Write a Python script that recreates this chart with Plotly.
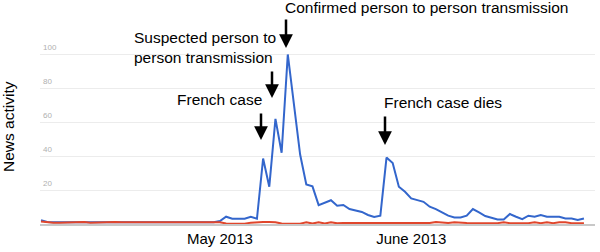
import pandas as pd
import plotly.graph_objects as go

# ---- data ----
dates = pd.date_range("2013-04-02", periods=89, freq="D")
blue = [2.2, 1.2, 1.0, 1.0, 1.0, 1.0, 1.0, 1.0, 1.0, 1.0,
        1.0, 1.0, 1.0, 1.0, 1.0, 1.0, 1.0, 1.0, 1.0, 1.0,
        1.0, 1.0, 1.0, 1.0, 1.0, 1.0, 1.0, 1.0, 1.0, 1.8,
        4.3, 3.1, 3.1, 3.1, 4.3, 3.1, 38.6, 22.0, 62.0, 42.0,
        100.0, 70.0, 41.0, 23.3, 22.2, 11.1, 12.5, 14.0, 10.8, 11.2,
        8.8, 7.8, 7.1, 5.3, 4.1, 4.9, 39.2, 36.0, 22.0, 19.0,
        15.1, 14.1, 13.1, 10.2, 8.8, 6.9, 4.9, 3.9, 3.9, 4.9,
        8.8, 6.8, 4.7, 3.7, 2.7, 2.7, 5.9, 4.3, 2.9, 4.9,
        4.3, 5.3, 4.3, 4.3, 4.3, 3.3, 3.3, 2.4, 3.3]
red = [1.5, 1.0, 0.8, 0.8, 1.0, 1.0, 1.0, 1.2, 0.8, 1.0,
       1.0, 1.0, 1.2, 1.0, 0.8, 1.0, 1.0, 1.0, 1.0, 1.0,
       1.2, 1.0, 1.0, 0.8, 1.0, 1.0, 1.2, 0.8, 1.0, 1.0,
       0.3, 0.2, 0.2, 0.2, 0.8, 1.2, 1.2, 1.2, 1.0, 0.3,
       0.3, 0.2, 0.2, 1.0, 0.3, 1.0, 0.3, 1.0, 0.4, 0.6,
       0.6, 1.0, 1.0, 1.0, 1.0, 1.0, 1.0, 1.0, 1.0, 1.0,
       1.0, 1.0, 0.6, 0.6, 1.2, 1.0, 0.6, 1.0, 0.6, 0.6,
       0.5, 0.5, 0.5, 0.5, 0.5, 1.0, 0.5, 0.5, 0.5, 0.5,
       1.0, 0.5, 1.0, 0.5, 1.0, 1.0, 0.5, 0.5, 0.5]
ytick_vals = [20, 40, 60, 80, 100]
xtick_vals = ["2013-05-01", "2013-06-01"]
xtick_text = ["May 2013", "June 2013"]

FONT = "Liberation Sans, Arial, sans-serif"
W, H = 600, 252
L, R, T, B = 40, 5, 46, 28
PW, PH = W - L - R, H - T - B


def px(x):
    return (x - L) / PW


def py(y):
    return (H - B - y) / PH


fig = go.Figure()
fig.add_trace(go.Scatter(x=dates, y=blue, mode="lines",
                         line=dict(color="#3366cc", width=2), hoverinfo="skip"))
fig.add_trace(go.Scatter(x=dates, y=red, mode="lines",
                         line=dict(color="#e0462c", width=2), hoverinfo="skip"))

ann = []
# texts
ann.append(dict(text="Confirmed person to person transmission", x=px(283), y=py(8),
                xanchor="left", yanchor="middle"))
ann.append(dict(text="Suspected person to<br>person transmission", x=px(132), y=py(47),
                xanchor="left", yanchor="middle", align="left"))
ann.append(dict(text="French case", x=px(175), y=py(99.5),
                xanchor="left", yanchor="middle"))
ann.append(dict(text="French case dies", x=px(382), y=py(102),
                xanchor="left", yanchor="middle"))
ann.append(dict(text="News activity", x=px(8), y=py(127), textangle=-90,
                xanchor="center", yanchor="middle"))
for a in ann:
    a.update(xref="paper", yref="paper", showarrow=False,
             font=dict(family=FONT, size=15.5, color="black"))

# arrows (tip x, tip y, length)
for tx, ty, ln in [(286, 48, 30), (272, 98, 28), (261, 140, 28), (385, 145, 30)]:
    ann.append(dict(text="", x=px(tx), y=py(ty), xref="paper", yref="paper",
                    showarrow=True, ax=0, ay=-ln, arrowhead=2, arrowsize=1.1,
                    arrowwidth=2.5, arrowcolor="black"))

fig.update_layout(
    width=W, height=H, margin=dict(l=L, r=R, t=T, b=B),
    paper_bgcolor="white", plot_bgcolor="white", showlegend=False,
    annotations=ann,
    xaxis=dict(range=["2013-04-01 20:07", "2013-06-30 19:00"],
               tickvals=xtick_vals, ticktext=xtick_text, ticks="",
               tickfont=dict(family=FONT, size=15, color="black"),
               showgrid=False, zeroline=False, showline=True,
               linecolor="#c8c8c8", linewidth=2),
    yaxis=dict(range=[0, 105], tickvals=ytick_vals, ticks="",
               ticklabelposition="inside", ticklabelshift=-7,
               ticklabeloverflow="allow",
               tickfont=dict(family=FONT, size=8, color="#b0b0b0"),
               showgrid=True, gridcolor="#ececec", gridwidth=1,
               zeroline=False, showline=False),
)

fig.write_html("out.html")
